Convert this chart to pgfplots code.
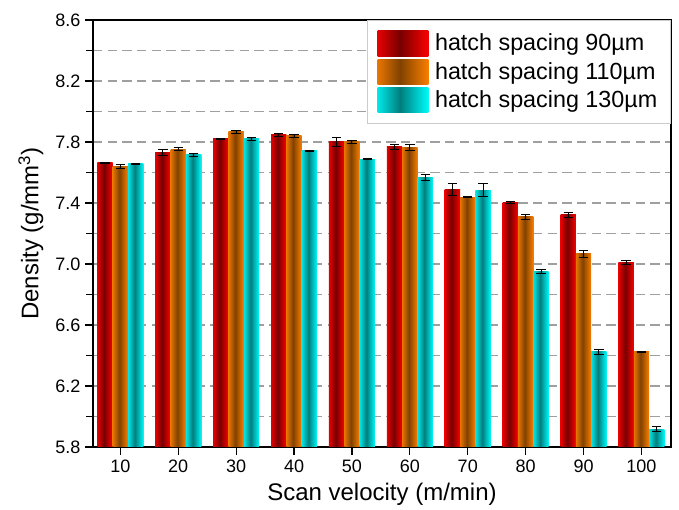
\documentclass[border=0pt]{standalone}
\usepackage{pgfplots}
\pgfplotsset{compat=1.18}
\usepackage{fontspec}
\setmainfont{Liberation Sans}
\definecolor{cR}{RGB}{255,0,0}
\definecolor{cRd}{RGB}{120,0,0}
\definecolor{cO}{RGB}{255,128,0}
\definecolor{cOd}{RGB}{128,66,0}
\definecolor{cC}{RGB}{0,255,255}
\definecolor{cCd}{RGB}{0,125,125}
\pgfdeclarehorizontalshading{redbar}{100bp}{color(0bp)=(cR); color(20bp)=(cR); color(47bp)=(cRd); color(76bp)=(cR); color(100bp)=(cR)}
\pgfdeclarehorizontalshading{orangebar}{100bp}{color(0bp)=(cO); color(20bp)=(cO); color(47bp)=(cOd); color(76bp)=(cO); color(100bp)=(cO)}
\pgfdeclarehorizontalshading{cyanbar}{100bp}{color(0bp)=(cC); color(20bp)=(cC); color(47bp)=(cCd); color(76bp)=(cC); color(100bp)=(cC)}
\pgfplotsset{
  barbase/.style={ybar, bar width=2.65, bar shift=0, draw=none, forget plot,
    error bars/.cd, y dir=both, y explicit},
  rS/.style={shade, shading=redbar, barbase},
  oS/.style={shade, shading=orangebar, barbase},
  cS/.style={shade, shading=cyanbar, barbase},
}
\begin{document}
\begin{tikzpicture}
\path (-69.75pt,-47.25pt) rectangle (439.5pt,335.25pt);
\begin{axis}[
  scale only axis,
  width=433.5pt, height=320.25pt,
  xmin=5.28, xmax=105.1,
  ymin=5.8, ymax=8.6,
  xtick={10,20,...,100},
  ytick={5.8,6.2,...,8.61},
  minor ytick={6.0,6.4,...,8.5},
  yticklabel style={/pgf/number format/.cd,fixed,fixed zerofill,precision=1},
  /pgf/number format/assume math mode=true,
  tick label style={font=\fontsize{13.5}{16}\selectfont},
  label style={font=\fontsize{18}{21}\selectfont},
  xlabel={Scan velocity (m/min)},
  ylabel={Density (g/mm\textsuperscript{3})},
  xlabel style={yshift=-1pt},
  ylabel style={yshift=2pt},
  tick align=outside,
  xtick pos=left, ytick pos=left,
  major tick length=6pt, minor tick length=5pt,
  every tick/.style={black, line width=0.9pt},
  axis line style={line width=1.1pt},
  ymajorgrids, yminorgrids,
  major grid style={gray!75, dash pattern=on 7pt off 4pt, line width=0.9pt},
  minor grid style={gray!75, dash pattern=on 7pt off 4pt, line width=0.9pt},
  legend cell align=left,
  legend style={at={(rel axis cs:1,1)}, anchor=north east, draw=gray!40, line width=0.5pt,
     font=\fontsize{17.5}{20}\selectfont, row sep=2.5pt, inner xsep=8pt, inner ysep=8pt,
     /tikz/every odd column/.style={column sep=3pt}},
  legend image code/.code={\path[#1,draw=none] (0pt,-9.4pt) rectangle (38pt,9.4pt);},
  error bars/error bar style={black, line width=0.7pt},
  error bars/error mark options={black, rotate=90, mark size=3.5pt, line width=0.7pt},
]
% hatch spacing 90 um (bars left of each group centre: x - 2.65)
\addplot[rS] coordinates {(7.35,7.664) +- (0,0.004)};
\addplot[rS] coordinates {(17.35,7.732) +- (0,0.02)};
\addplot[rS] coordinates {(27.35,7.820) +- (0,0.005)};
\addplot[rS] coordinates {(37.35,7.846) +- (0,0.01)};
\addplot[rS] coordinates {(47.35,7.800) +- (0,0.03)};
\addplot[rS] coordinates {(57.35,7.769) +- (0,0.017)};
\addplot[rS] coordinates {(67.35,7.490) +- (0,0.04)};
\addplot[rS] coordinates {(77.35,7.404) +- (0,0.004)};
\addplot[rS] coordinates {(87.35,7.323) +- (0,0.015)};
\addplot[rS] coordinates {(97.35,7.011) +- (0,0.013)};
% hatch spacing 110 um (group centre)
\addplot[oS] coordinates {(10,7.638) +- (0,0.014)};
\addplot[oS] coordinates {(20,7.752) +- (0,0.01)};
\addplot[oS] coordinates {(30,7.866) +- (0,0.012)};
\addplot[oS] coordinates {(40,7.841) +- (0,0.01)};
\addplot[oS] coordinates {(50,7.800) +- (0,0.012)};
\addplot[oS] coordinates {(60,7.765) +- (0,0.022)};
\addplot[oS] coordinates {(70,7.437) +- (0,0.003)};
\addplot[oS] coordinates {(80,7.310) +- (0,0.015)};
\addplot[oS] coordinates {(90,7.066) +- (0,0.02)};
\addplot[oS] coordinates {(100,6.423) +- (0,0.003)};
% hatch spacing 130 um (x + 2.65)
\addplot[cS] coordinates {(12.65,7.656) +- (0,0.003)};
\addplot[cS] coordinates {(22.65,7.715) +- (0,0.013)};
\addplot[cS] coordinates {(32.65,7.820) +- (0,0.012)};
\addplot[cS] coordinates {(42.65,7.741) +- (0,0.003)};
\addplot[cS] coordinates {(52.65,7.687) +- (0,0.003)};
\addplot[cS] coordinates {(62.65,7.568) +- (0,0.02)};
\addplot[cS] coordinates {(72.65,7.485) +- (0,0.043)};
\addplot[cS] coordinates {(82.65,6.950) +- (0,0.015)};
\addplot[cS] coordinates {(92.65,6.425) +- (0,0.015)};
\addplot[cS] coordinates {(102.65,5.918) +- (0,0.018)};
\addlegendimage{shade, shading=redbar}
\addlegendentry{hatch spacing 90µm}
\addlegendimage{shade, shading=orangebar}
\addlegendentry{hatch spacing 110µm}
\addlegendimage{shade, shading=cyanbar}
\addlegendentry{hatch spacing 130µm}
\end{axis}
\end{tikzpicture}
\end{document}
